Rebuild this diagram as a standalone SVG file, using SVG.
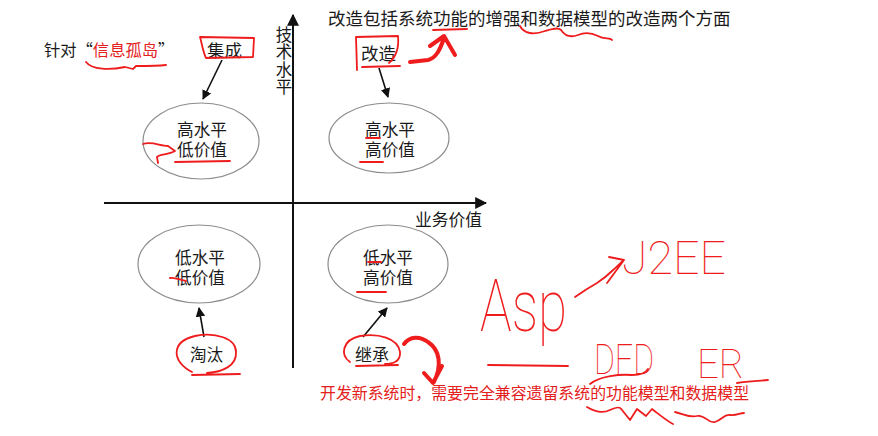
<svg xmlns="http://www.w3.org/2000/svg" width="878" height="436" viewBox="0 0 878 436">
<style>
.t{font-family:"Noto Sans CJK SC","Noto Sans",sans-serif;fill:#1a1a1a}
.r{fill:#e3201b}
.el{fill:none;stroke:#8c8c8c;stroke-width:1.2}
.ax{stroke:#111;stroke-width:2;fill:none}
.ar{stroke:#111;stroke-width:1.6;fill:none}
.ink{fill:none;stroke:#ee1c1c;stroke-width:1.8;stroke-linecap:round;stroke-linejoin:round}
.ink4{fill:none;stroke:#ee1c1c;stroke-width:4;stroke-linecap:round;stroke-linejoin:round}
.hw{font-family:"Roboto","Lato","Liberation Sans",sans-serif;font-weight:100;fill:#ee1c1c}
</style>
<defs>
<marker id="ah" viewBox="0 0 10 10" refX="9" refY="5" markerWidth="6" markerHeight="6" orient="auto" markerUnits="strokeWidth"><path d="M0,0 L10,5 L0,10 Z" fill="#111"/></marker>
<marker id="axh" viewBox="0 0 10 10" refX="9" refY="5" markerWidth="6" markerHeight="6" orient="auto" markerUnits="strokeWidth"><path d="M0,0 L10,5 L0,10 Z" fill="#111"/></marker>
</defs>
<rect width="878" height="436" fill="#fff"/>

<g id="axes">
<line class="ax" x1="293" y1="368" x2="293" y2="15" marker-end="url(#axh)"/>
<line class="ax" x1="104" y1="203" x2="486" y2="203" marker-end="url(#axh)"/>
<text class="t" x="284" y="26" font-size="16.5" writing-mode="vertical-rl" letter-spacing="1">技术水平</text>
<text class="t" x="415" y="226" font-size="16.8">业务价值</text>
</g>

<g id="title">
<text class="t" x="328" y="25" font-size="17.5">改造包括系统功能的增强和数据模型的改造两个方面</text>
</g>

<g id="note-left">
<text class="t" x="44" y="56" font-size="16.3">针对“<tspan class="r">信息孤岛</tspan>”</text>
</g>

<g id="n-jicheng"><text class="t" x="207" y="57" font-size="17.5">集成</text></g>
<g id="n-gaizao"><text class="t" x="361" y="60" font-size="17.5">改造</text></g>
<g id="n-taotai"><text class="t" x="190" y="361" font-size="16.5">淘汰</text></g>
<g id="n-jicheng2"><text class="t" x="355" y="361" font-size="17">继承</text></g>

<g id="q-tl">
<ellipse class="el" cx="201" cy="141" rx="58" ry="38"/>
<text class="t" x="202" y="136" font-size="16.7" text-anchor="middle">高水平</text>
<text class="t" x="202" y="156" font-size="16.7" text-anchor="middle">低价值</text>
</g>
<g id="q-tr">
<ellipse class="el" cx="389" cy="138" rx="60" ry="35"/>
<text class="t" x="390" y="136" font-size="16.7" text-anchor="middle">高水平</text>
<text class="t" x="390" y="156" font-size="16.7" text-anchor="middle">高价值</text>
</g>
<g id="q-bl">
<ellipse class="el" cx="199" cy="264" rx="61" ry="39"/>
<text class="t" x="200" y="264" font-size="16.7" text-anchor="middle">低水平</text>
<text class="t" x="200" y="284" font-size="16.7" text-anchor="middle">低价值</text>
</g>
<g id="q-br">
<ellipse class="el" cx="388" cy="264" rx="60" ry="39"/>
<text class="t" x="388" y="264" font-size="16.7" text-anchor="middle">低水平</text>
<text class="t" x="388" y="284" font-size="16.7" text-anchor="middle">高价值</text>
</g>

<g id="note-bottom">
<text class="t r" x="320" y="399" font-size="15.9">开发新系统时，需要完全兼容遗留系统的功能模型和数据模型</text>
</g>

<g id="connectors">
<line class="ar" x1="222" y1="60" x2="203" y2="99" marker-end="url(#ah)"/>
<line class="ar" x1="379" y1="68" x2="388" y2="97" marker-end="url(#ah)"/>
<line class="ar" x1="204" y1="337" x2="199" y2="308" marker-end="url(#ah)"/>
<line class="ar" x1="363" y1="337" x2="387" y2="308" marker-end="url(#ah)"/>
</g>

<g id="annotations">
<path class="ink" d="M86,62 C92,70 110,70 125,67 L133,69 L136,66 C148,66 158,66 166,65"/>
<path class="ink" d="M200,37 L254,38 L253,57 L206,58 C203,52 202,44 200,37"/>
<path class="ink" d="M357,70 L356,37 L398,36 C399,46 397,56 389,63 M362,67 L400,66"/>
<path class="ink4" d="M410,62 L428,60 C436,58 440,50 444,38 M430,46 L444,36 L455,55"/>
<path class="ink" d="M433,30 L467,29"/>
<path class="ink" d="M520,26 C524,34 534,35 545,31 C552,29 558,27 561,30 C565,36 570,38 578,35 C585,32 592,33 598,36 C604,40 610,37 612,40"/>
<path class="ink" d="M143,144 C152,141 160,146 168,146 L175,151 C168,155 160,154 157,157 L158,163"/>
<path class="ink" d="M175,162 L230,161"/>
<path class="ink" d="M366,138 L380,138 M360,162 L383,162"/>
<path class="ink" d="M170,278 C175,277 180,280 186,281"/>
<path class="ink" d="M368,262 L381,262 M357,292 L386,292"/>
<path class="ink" d="M192,372 C172,362 170,342 195,336 C215,332 236,338 236,352 C237,366 222,372 207,373 M192,375 L240,374"/>
<path class="ink" d="M350,362 C340,355 342,340 360,336 C378,333 398,338 400,352 C401,362 392,364 385,364 M356,366 L398,365"/>
<path class="ink4" d="M404,344 C410,336 420,336 428,342 C440,350 442,365 434,382 M424,373 L433,383 L442,366"/>
<text class="hw" x="480" y="331" font-size="72" textLength="87" lengthAdjust="spacingAndGlyphs">Asp</text>
<path class="ink" d="M488,365 L568,366"/>
<path class="ink" d="M575,297 C585,290 590,287 597,283 C603,279 608,275 612,271 C617,267 620,263 624,260 M609,257 L624,260 L607,283"/>
<text class="hw" x="622" y="274" font-size="46" textLength="104" lengthAdjust="spacingAndGlyphs">J2EE</text>
<text class="hw" x="594" y="374" font-size="42" textLength="60" lengthAdjust="spacingAndGlyphs">DFD</text>
<path class="ink" d="M590,384 C600,376 620,374 632,375 C640,375 646,373 648,369"/>
<text class="hw" x="697" y="378" font-size="41" textLength="47" lengthAdjust="spacingAndGlyphs">ER</text>
<path class="ink" d="M737,383 C748,381 758,381 768,380"/>
<path class="ink" d="M587,407 C595,412 602,414 610,410 C616,407 620,406 622,410 L630,420 L637,409 L646,416 L652,409 C660,415 667,421 673,424"/>
<path class="ink" d="M675,412 C684,414 690,418 697,416 C705,414 708,424 715,422 C722,420 724,414 730,415 C736,416 740,413 744,413"/>
</g>
</svg>
